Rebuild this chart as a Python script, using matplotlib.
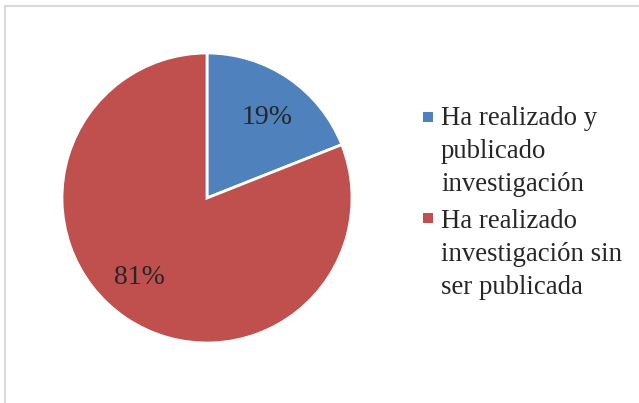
import matplotlib.pyplot as plt
from matplotlib.patches import Rectangle

# Data
labels = ["Ha realizado y\npublicado\ninvestigación",
          "Ha realizado\ninvestigación sin\nser publicada"]
values = [19, 81]
colors = ["#4F81BD", "#C0504D"]

plt.rcParams['font.family'] = ['Liberation Serif', 'DejaVu Serif']

W, H = 639, 403
fig = plt.figure(figsize=(W / 100, H / 100), dpi=100)

# light grey frame around the chart area
fig.patches.append(Rectangle((5 / W, -0.1), 1.2, 1 - 6 / H + 0.1,
                             transform=fig.transFigure, fill=False,
                             edgecolor="#d9d9d9", linewidth=1.5))

# pie: centre (207, 198) px, radius 145 px
ax = fig.add_axes([62 / W, 60 / H, 290 / W, 290 / H])
wedges, texts, autotexts = ax.pie(
    values, colors=colors, startangle=90, counterclock=False,
    autopct="%1.0f%%", pctdistance=0.70,
    wedgeprops=dict(edgecolor="white", linewidth=2),
    textprops=dict(fontsize=20, color="#262626", va="center_baseline"))
ax.set_xlim(-1, 1)
ax.set_ylim(-1, 1)
ax.set_aspect("equal")

# Excel puts the labels a little off the bisector
x, y = autotexts[0].get_position()
autotexts[0].set_position((x + 0.02, y))
x, y = autotexts[1].get_position()
autotexts[1].set_position((x - 0.07, y + 0.05))

# legend drawn by hand: square marker next to the first line of each label
first_line = [117, 218]   # centre of first text line, px from top
last_base = [191, 294]    # baseline of last text line, px from top
for lab, col, yc, yb in zip(labels, colors, first_line, last_base):
    fig.patches.append(Rectangle((423 / W, 1 - (yc + 5) / H), 10 / W, 10 / H,
                                 transform=fig.transFigure,
                                 facecolor=col, edgecolor="none"))
    fig.text(441 / W, 1 - yb / H, lab, fontsize=19.3,
             color="#262626", ha="left", va="baseline", linespacing=1.41)

fig.savefig("out.png", dpi=100)
